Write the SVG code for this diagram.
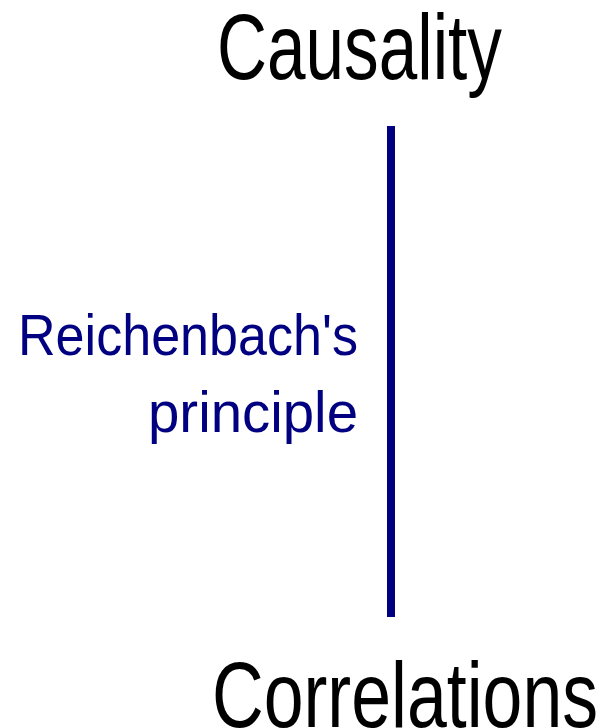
<svg xmlns="http://www.w3.org/2000/svg" width="608" height="728" viewBox="0 0 608 728">
<style>
.big{font-family:"Liberation Sans",Arial,sans-serif;font-size:92px;fill:#000}
.lbl{font-family:"Liberation Sans",Arial,sans-serif;font-size:58px;fill:#000080}
</style>
<rect width="608" height="728" fill="#fff"/>
<g id="causality"><text class="big" x="217" y="79" textLength="285" lengthAdjust="spacingAndGlyphs">Causality</text></g>
<g id="correlations"><text class="big" x="212" y="727" textLength="386" lengthAdjust="spacingAndGlyphs">Correlations</text></g>
<g id="connectors">
<line x1="391" y1="126" x2="391" y2="617" stroke="#000080" stroke-width="8"/>
<text class="lbl" x="18" y="355" textLength="340" lengthAdjust="spacingAndGlyphs">Reichenbach's</text>
<text class="lbl" x="148" y="432" textLength="210" lengthAdjust="spacingAndGlyphs">principle</text>
</g>
</svg>
